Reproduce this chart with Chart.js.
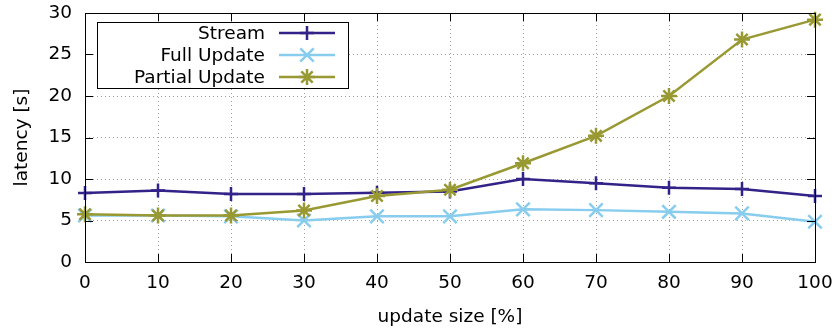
<!DOCTYPE html>
<html>
<head>
<meta charset="utf-8">
<script src="https://cdn.jsdelivr.net/npm/chart.js@4.4.1/dist/chart.umd.min.js"></script>
<style>
  html, body { margin: 0; padding: 0; background: #fff; }
</style>
</head>
<body>
<canvas id="latencyChart" width="840" height="331"></canvas>
<script>
// datos
const updateSize = [0, 10, 20, 30, 40, 50, 60, 70, 80, 90, 100];
const streamLatency = [8.3, 8.6, 8.2, 8.2, 8.35, 8.5, 10.0, 9.5, 8.95, 8.8, 7.95];
const fullUpdateLatency = [5.6, 5.6, 5.5, 5.0, 5.5, 5.5, 6.35, 6.25, 6.05, 5.85, 4.85];
const partialUpdateLatency = [5.75, 5.6, 5.6, 6.2, 7.95, 8.7, 11.9, 15.2, 20.0, 26.8, 29.2];
const seriesNames = ['Stream', 'Full Update', 'Partial Update'];
const xTickValues = [0, 10, 20, 30, 40, 50, 60, 70, 80, 90, 100];
const yTickValues = [0, 5, 10, 15, 20, 25, 30];

const FONT = 'DejaVu Sans';
const FONT_SIZE = 18.5;

function toPoints(values) {
    return updateSize.map((x, i) => ({ x: x, y: values[i] }));
}

/**
 * Marco estilo gnuplot: borde, ticks hacia dentro y leyenda con caja
 */
const gnuplotFrame = {
    id: 'gnuplotFrame',
    afterDraw(chart) {
        const { ctx, chartArea: a, scales } = chart;
        const tick = 8;
        ctx.save();
        ctx.strokeStyle = '#000';
        ctx.lineWidth = 1;

        // ticks
        ctx.beginPath();
        xTickValues.forEach(v => {
            const px = Math.round(scales.x.getPixelForValue(v)) + 0.5;
            ctx.moveTo(px, a.bottom); ctx.lineTo(px, a.bottom - tick);
            ctx.moveTo(px, a.top); ctx.lineTo(px, a.top + tick);
        });
        yTickValues.forEach(v => {
            const py = Math.round(scales.y.getPixelForValue(v)) + 0.5;
            ctx.moveTo(a.left, py); ctx.lineTo(a.left + tick, py);
            ctx.moveTo(a.right, py); ctx.lineTo(a.right - tick, py);
        });
        ctx.stroke();

        // borde
        ctx.strokeRect(Math.round(a.left) + 0.5, Math.round(a.top) + 0.5,
            Math.round(a.right - a.left), Math.round(a.bottom - a.top));

        // leyenda
        const boxX = a.left + 12, boxY = a.top + 9, boxW = 251, boxH = 66;
        ctx.fillStyle = '#fff';
        ctx.fillRect(boxX, boxY, boxW, boxH);
        ctx.strokeRect(boxX + 0.5, boxY + 0.5, boxW, boxH);

        ctx.font = `${FONT_SIZE}px "${FONT}"`;
        ctx.textAlign = 'right';
        ctx.textBaseline = 'middle';
        chart.data.datasets.forEach((ds, i) => {
            const ly = boxY + 11 + i * 22;
            ctx.fillStyle = '#000';
            ctx.fillText(ds.label, boxX + 168, ly + 1);
            ctx.strokeStyle = ds.borderColor;
            ctx.lineWidth = ds.borderWidth;
            ctx.beginPath();
            ctx.moveTo(boxX + 182, ly);
            ctx.lineTo(boxX + 238, ly);
            ctx.stroke();
            ctx.lineWidth = ds.pointBorderWidth;
            Chart.helpers.drawPoint(ctx, {
                pointStyle: ds.pointStyle,
                radius: ds.pointRadius,
                rotation: 0,
                borderWidth: ds.pointBorderWidth
            }, boxX + 210, ly);
        });
        ctx.restore();
    }
};

const datasetStyle = (label, color, style, radius, order) => ({
    label: label,
    borderColor: color,
    backgroundColor: color,
    borderWidth: 2.5,
    pointStyle: style,
    pointRadius: radius,
    pointHoverRadius: radius,
    pointBorderWidth: 2.5,
    pointBorderColor: color,
    tension: 0,
    clip: false,
    order: order
});

new Chart(document.getElementById('latencyChart').getContext('2d'), {
    type: 'line',
    data: {
        datasets: [
            { ...datasetStyle(seriesNames[0], '#332288', 'cross', 7, 2), data: toPoints(streamLatency) },
            { ...datasetStyle(seriesNames[1], '#88CCEE', 'crossRot', 9.5, 1), data: toPoints(fullUpdateLatency) },
            { ...datasetStyle(seriesNames[2], '#999933', 'star', 8, 0), data: toPoints(partialUpdateLatency) }
        ]
    },
    options: {
        responsive: false,
        devicePixelRatio: 1,
        animation: false,
        layout: { padding: { top: 13, right: 25, left: 0, bottom: 0 } },
        plugins: {
            legend: { display: false },
            tooltip: { enabled: false }
        },
        scales: {
            x: {
                type: 'linear',
                min: 0,
                max: 100,
                afterFit: (s) => { s.height = 69; s.paddingLeft = 0; s.paddingRight = 0; },
                afterBuildTicks: (s) => { s.ticks = xTickValues.map(v => ({ value: v })); },
                grid: { color: '#a0a0a0', drawTicks: false, lineWidth: 1 },
                border: { display: false, dash: [1, 3] },
                ticks: { color: '#000', padding: 10, maxRotation: 0, font: { family: FONT, size: FONT_SIZE } },
                title: {
                    display: true,
                    text: 'update size [%]',
                    color: '#000',
                    font: { family: FONT, size: FONT_SIZE },
                    padding: { top: 3, bottom: 3 }
                }
            },
            y: {
                min: 0,
                max: 30,
                afterFit: (s) => { s.width = 85; s.paddingTop = 0; s.paddingBottom = 0; },
                afterBuildTicks: (s) => { s.ticks = yTickValues.map(v => ({ value: v })); },
                grid: { color: '#a0a0a0', drawTicks: false, lineWidth: 1 },
                border: { display: false, dash: [1, 3] },
                ticks: { color: '#000', padding: 13, font: { family: FONT, size: FONT_SIZE } },
                title: {
                    display: true,
                    text: 'latency [s]',
                    color: '#000',
                    font: { family: FONT, size: FONT_SIZE },
                    padding: { top: 11, bottom: 11 }
                }
            }
        }
    },
    plugins: [gnuplotFrame]
});
</script>
</body>
</html>
